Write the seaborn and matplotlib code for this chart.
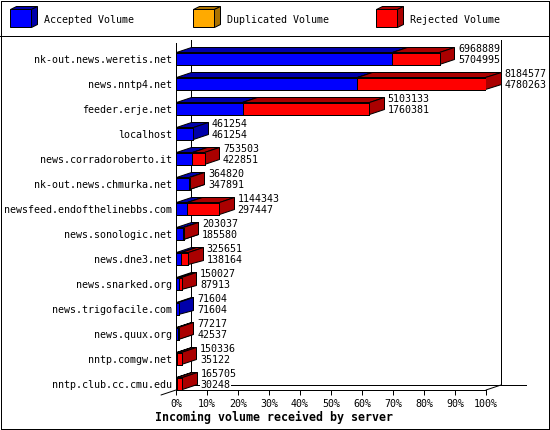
#!/usr/bin/env python3

import numpy as np
import pandas as pd
import matplotlib
matplotlib.use('Agg')
import matplotlib.pyplot as plt
from matplotlib.patches import Polygon
from matplotlib.transforms import IdentityTransform
import seaborn as sns

servers = ['nk-out.news.weretis.net', 'news.nntp4.net', 'feeder.erje.net', 'localhost',
           'news.corradoroberto.it', 'nk-out.news.chmurka.net', 'newsfeed.endofthelinebbs.com',
           'news.sonologic.net', 'news.dne3.net', 'news.snarked.org', 'news.trigofacile.com',
           'news.quux.org', 'nntp.comgw.net', 'nntp.club.cc.cmu.edu']
total = [6968889, 8184577, 5103133, 461254, 753503, 364820, 1144343,
         203037, 325651, 150027, 71604, 77217, 150336, 165705]
accepted = [5704995, 4780263, 1760381, 461254, 422851, 347891, 297447,
            185580, 138164, 87913, 71604, 42537, 35122, 30248]
legend_names = ['Accepted Volume', 'Duplicated Volume', 'Rejected Volume']
x_ticks = [0, 10, 20, 30, 40, 50, 60, 70, 80, 90, 100]

BLUE, DARK_BLUE = '#0000ff', '#0000aa'
RED, DARK_RED = '#ff0000', '#aa0000'
ORANGE, DARK_ORANGE = '#ffaa00', '#aa7100'
LW = 0.72
FS = 7.2
W, H = 550, 430
LEFT, RIGHT, TOP, BOTTOM = 176, 486, 43, 390
DX, DY = 15, 5  # depth of the 3d effect in pixels

sns.set_theme(style='white')
plt.rcParams['font.family'] = ['DejaVu Sans Mono']
plt.rcParams['patch.antialiased'] = False
plt.rcParams['lines.antialiased'] = False


def face(ax, pts, color, zorder):
    # corners on pixel centres keep the flat edges one pixel wide,
    # antialiasing stops the slanted ones from going heavy
    xy = np.floor(ax.transData.transform(pts)) + 0.5
    ax.add_patch(Polygon(xy, fc=color, ec='black', lw=LW, clip_on=False, zorder=zorder,
                         transform=IdentityTransform(), snap=False, antialiased=True))


def cube(ax, x0, x1, y0, y1, dx, dy, front, dark):
    face(ax, [(x0, y0), (x0 + dx, y0 - dy), (x1 + dx, y0 - dy), (x1, y0)], dark, 4)
    face(ax, [(x1, y0), (x1 + dx, y0 - dy), (x1 + dx, y1 - dy), (x1, y1)], dark, 4)
    if front:
        face(ax, [(x0, y0), (x1, y0), (x1, y1), (x0, y1)], front, 5)


def main():
    fig = plt.figure(figsize=(W / 100, H / 100), dpi=100, facecolor='white')

    # page layer in pixel coordinates: frame, legend strip
    bg = fig.add_axes([0, 0, 1, 1], zorder=0)
    bg.set_xlim(0, W)
    bg.set_ylim(H, 0)
    bg.axis('off')
    bg.add_patch(Polygon([(0.5, 0.5), (W - 1.5, 0.5), (W - 1.5, H - 1.5), (0.5, H - 1.5)],
                         fc='white', ec='black', lw=LW))
    bg.plot([0, W - 1], [35.5, 35.5], color='black', lw=LW)
    swatches = [(10, BLUE, DARK_BLUE), (193, ORANGE, DARK_ORANGE), (376, RED, DARK_RED)]
    for name, (sx, col, dark) in zip(legend_names, swatches):
        cube(bg, sx, sx + 21, 10, 28, 6, 3, col, dark)
        bg.text(sx + 34, 20, name, fontsize=FS, va='center', ha='left', color='black')
    bg.text(274, 417, 'Incoming volume received by server', fontsize=8.4, fontweight='bold',
            va='center', ha='center', color='black')

    ax = fig.add_axes([LEFT / W, 1 - BOTTOM / H, (RIGHT - LEFT) / W, (BOTTOM - TOP) / H],
                      zorder=1)
    ax.patch.set_alpha(0)

    df = pd.DataFrame({'server': servers, 'total': total, 'accepted': accepted})
    df['total_pct'] = df['total'] / df['total'].max() * 100
    df['accepted_pct'] = df['accepted'] / df['total'].max() * 100

    bar_h = 12 / 25
    sns.barplot(data=df, x='total_pct', y='server', color=RED, orient='h', width=bar_h,
                saturation=1, edgecolor='black', linewidth=LW, ax=ax, zorder=5)
    sns.barplot(data=df, x='accepted_pct', y='server', color=BLUE, orient='h', width=bar_h,
                saturation=1, edgecolor='black', linewidth=LW, ax=ax, zorder=6)

    ax.set_xlim(0, 100)
    ax.set_ylim(13.24, -0.64)
    dx = DX / (RIGHT - LEFT) * 100
    dy = DY / 25

    # back wall and floor lines of the 3d box
    ybottom = 13.24
    ytop = -0.64
    line = dict(color='black', lw=LW, clip_on=False, zorder=1)
    ax.plot([dx, dx], [ybottom - dy, ytop - 0.12], **line)
    ax.plot([100 + dx, 100 + dx], [ybottom - dy, ytop - 0.12], **line)
    ax.plot([dx, 100 + dx + 8], [ybottom - dy, ybottom - dy], **line)
    ax.plot([0, -dx], [ybottom, ybottom + dy], antialiased=True, **line)
    ax.plot([100, 100 + dx], [ybottom, ybottom - dy], antialiased=True, **line)

    for i, row in df.iterrows():
        y0, y1 = i - bar_h / 2, i + bar_h / 2
        if row['accepted_pct'] > 0:
            cube(ax, 0, row['accepted_pct'], y0, y1, dx, dy, None, DARK_BLUE)
        if row['total'] > row['accepted']:
            cube(ax, row['accepted_pct'], row['total_pct'], y0, y1, dx, dy, None, DARK_RED)
        for val, off in ((row['total'], 5.5), (row['accepted'], -5.5)):
            ax.annotate(str(val), (row['total_pct'] + dx, i - 0.18), xytext=(2.4, off * 0.72),
                        textcoords='offset points', fontsize=FS, va='center', ha='left',
                        color='black', zorder=7, annotation_clip=False,
                        bbox=dict(fc='white', ec='none', pad=0.2))

    ax.set_xticks(x_ticks)
    ax.set_xticklabels([f'{t}%' for t in x_ticks], fontsize=FS)
    ax.tick_params(axis='x', bottom=True, length=3.6, width=LW, pad=3, color='black')
    ax.tick_params(axis='y', left=False, length=0, pad=3.0, labelsize=FS)
    ax.set_xlabel('')
    ax.set_ylabel('')
    for side in ('top', 'right'):
        ax.spines[side].set_visible(False)
    for side in ('left', 'bottom'):
        ax.spines[side].set_linewidth(LW)
        ax.spines[side].set_color('black')
    for t in ax.get_xticklabels() + ax.get_yticklabels():
        t.set_color('black')

    fig.savefig('out.png', dpi=100)


if __name__ == '__main__':
    main()
